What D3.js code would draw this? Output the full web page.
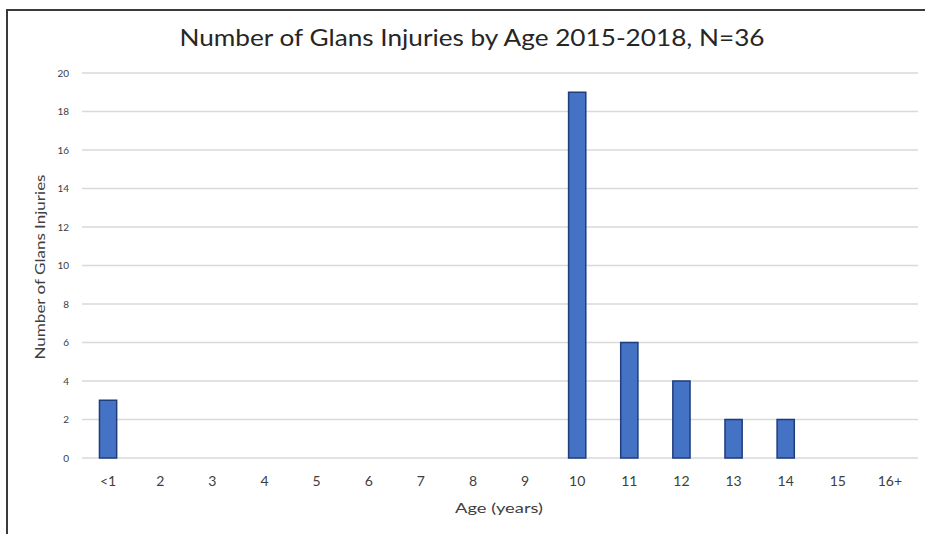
<!DOCTYPE html>
<html>
<head>
<meta charset="utf-8">
<script src="https://cdn.jsdelivr.net/npm/d3@7"></script>
<style>
  html, body { margin: 0; padding: 0; background: #ffffff; }
  svg { display: block; }
</style>
</head>
<body>
<svg id="chart" width="925" height="534"></svg>
<script>
const categories = ["<1", "2", "3", "4", "5", "6", "7", "8", "9", "10", "11", "12", "13", "14", "15", "16+"];
const injuries = [3, 0, 0, 0, 0, 0, 0, 0, 0, 19, 6, 4, 2, 2, 0, 0];
const yTicks = [0, 2, 4, 6, 8, 10, 12, 14, 16, 18, 20];
const titleText = "Number of Glans Injuries by Age 2015-2018, N=36";
const xTitle = "Age (years)";
const yTitle = "Number of Glans Injuries";

const svg = d3.select("#chart");
const font = "Lato, 'Open Sans', sans-serif";

// frame
svg.append("line").attr("x1", 7).attr("x2", 925).attr("y1", 10).attr("y2", 10)
  .attr("stroke", "#3a3a3a").attr("stroke-width", 2);
svg.append("line").attr("x1", 7).attr("x2", 7).attr("y1", 9).attr("y2", 534)
  .attr("stroke", "#3a3a3a").attr("stroke-width", 2);

const x = d3.scaleBand().domain(categories).range([82, 916]).paddingInner(0.67).paddingOuter(0.335);
const y = d3.scaleLinear().domain([0, 20]).range([458, 73]);

// gridlines
svg.append("g").selectAll("line").data(yTicks).join("line")
  .attr("x1", 82).attr("x2", 918)
  .attr("y1", d => y(d)).attr("y2", d => y(d))
  .attr("stroke", "#d9d9d9").attr("stroke-width", 1.5);

// y axis labels
const yAxis = d3.axisLeft(y).tickValues(yTicks).tickSize(0).tickPadding(0);
const gy = svg.append("g").attr("transform", "translate(69,0)").call(yAxis);
gy.select(".domain").remove();
gy.selectAll("text").attr("font-family", font).attr("font-size", 10).attr("fill", "#404040");

// x axis labels
const xAxis = d3.axisBottom(x).tickSize(0).tickPadding(0);
const gx = svg.append("g").attr("transform", "translate(0,476)").call(xAxis);
gx.select(".domain").remove();
gx.selectAll("text").attr("font-family", font).attr("font-size", 14).attr("fill", "#404040");

// bars
svg.append("g").selectAll("rect").data(categories.map((c, i) => ({c, v: injuries[i]})).filter(d => d.v > 0))
  .join("rect")
  .attr("x", d => x(d.c))
  .attr("y", d => y(d.v))
  .attr("width", x.bandwidth())
  .attr("height", d => y(0) - y(d.v))
  .attr("fill", "#4472c4")
  .attr("stroke", "#1f3d7a")
  .attr("stroke-width", 1.5);

// title
svg.append("text").attr("x", 472).attr("y", 46).attr("text-anchor", "middle")
  .attr("font-family", font).attr("font-size", 23).attr("fill", "#262626")
  .attr("textLength", 585).attr("lengthAdjust", "spacingAndGlyphs").text(titleText);

// x title
svg.append("text").attr("x", 499).attr("y", 513).attr("text-anchor", "middle")
  .attr("font-family", font).attr("font-size", 14).attr("fill", "#404040")
  .attr("textLength", 88).attr("lengthAdjust", "spacingAndGlyphs").text(xTitle);

// y title
svg.append("text").attr("transform", "translate(45,267) rotate(-90)").attr("text-anchor", "middle")
  .attr("font-family", font).attr("font-size", 14).attr("fill", "#404040")
  .attr("textLength", 185).attr("lengthAdjust", "spacingAndGlyphs").text(yTitle);
</script>
</body>
</html>
